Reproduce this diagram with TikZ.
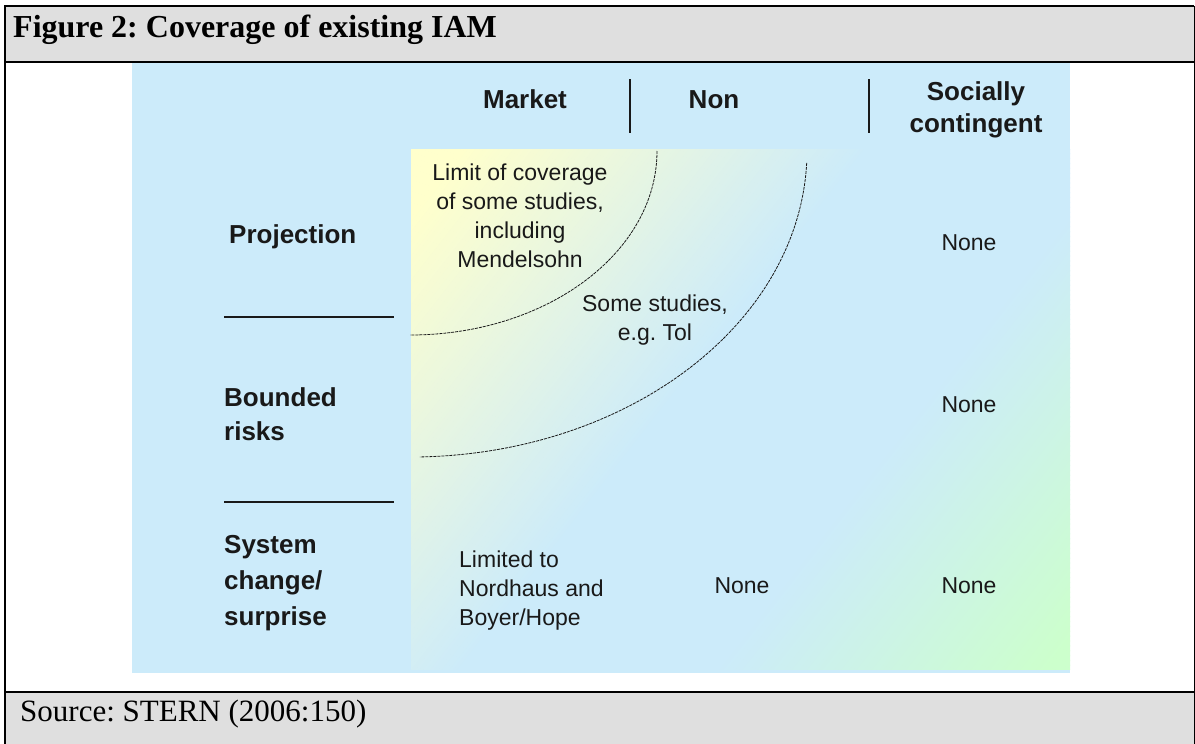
\documentclass[tikz,border=0pt]{standalone}
\usepackage{fontspec}
\setmainfont{Liberation Serif}
\setsansfont{Liberation Sans}
\usepackage{xcolor}
\frenchspacing

\definecolor{boxgray}{RGB}{223,223,223}
\definecolor{skyblue}{RGB}{204,235,250}
\definecolor{lightyellow}{RGB}{255,255,204}
\definecolor{lightgreen}{RGB}{204,255,204}
\definecolor{ink}{RGB}{25,25,25}

\begin{document}
\begin{tikzpicture}[x=1pt, y=-1pt,
	frame/.style={line width=2pt, black},
	colhead/.style={font=\sffamily\bfseries\fontsize{26}{32}\selectfont, text=ink, align=center, inner sep=0pt},
	rowhead/.style={font=\sffamily\bfseries\fontsize{26}{34}\selectfont, text=ink, align=left, inner sep=0pt},
	cell/.style={font=\sffamily\fontsize{23}{29}\selectfont, text=ink, align=center, inner sep=0pt},
	rule/.style={line width=1.4pt, ink},
	limit/.style={line width=0.8pt, ink, dash pattern=on 3pt off 1pt}]
	\useasboundingbox (0,0) rectangle (1195,744);
	\clip (0,0) rectangle (1195,744);
	% Draw table frame
	\fill[boxgray] (5,6) rectangle (1194,62);
	\fill[boxgray] (5,692) rectangle (1194,750);
	\draw[frame] (5,750) -- (5,6) -- (1194,6);
	\draw[line width=1pt] (1194,6) -- (1194,750);
	\draw[frame] (5,62) -- (1194,62);
	\draw[frame] (5,692) -- (1194,692);
	\node[anchor=base west, inner sep=0pt, font=\bfseries\fontsize{32}{36}\selectfont] (title) at (13,37) {Figure 2: Coverage of existing IAM};
	\node[anchor=base west, inner sep=0pt, font=\fontsize{31}{36}\selectfont] (source) at (20,721) {Source: STERN (2006:150)};
	% Draw panel
	\fill[skyblue] (132,63) rectangle (1070,673);
	% Diagonal fade: yellow -> blue -> green, in thin strips
	\begin{scope}
		\clip (411,149) rectangle (1070,669);
		\begin{scope}[shift={(411,149)}, rotate=-38]
			\foreach \s in {0,3,...,843} {
				\pgfmathsetmacro\ya{max(0,min(100,(360-\s)/3.2))}
				\pgfmathsetmacro\gr{max(0,min(100,(\s-560)/2.6))}
				\ifdim\s pt<460pt \def\fadecol{lightyellow!\ya!skyblue}\else\def\fadecol{lightgreen!\gr!skyblue}\fi
				\fill[color=\fadecol] (\s,-900) rectangle (\s+3.6,900);
			}
		\end{scope}
	\end{scope}
	% Draw separators
	\draw[rule] (630,79) -- (630,133);
	\draw[rule] (869,79) -- (869,133);
	\draw[rule] (224,317) -- (394,317);
	\draw[rule] (224,502) -- (394,502);
	% Draw coverage limits
	\draw[limit] (657,151) arc[start angle=0, end angle=90, x radius=247, y radius=184];
	\draw[limit] (806.7,162.9) arc[start angle=2.4, end angle=88.6, x radius=397, y radius=307];
	% Column heads (base = last line)
	\node[colhead, anchor=base] (market) at (525,108) {Market};
	\node[colhead, anchor=base] (non) at (714,108) {Non};
	\node[colhead, anchor=base] (social) at (976,132) {Socially\\contingent};
	% Row heads
	\node[rowhead, anchor=base west] (projection) at (229,243) {Projection};
	\node[rowhead, anchor=base west] (bounded) at (224,440) {Bounded\\risks};
	\node[rowhead, anchor=base west, font=\sffamily\bfseries\fontsize{26}{36}\selectfont] (system) at (224,625) {System\\change/\\surprise};
	% Cells
	\node[cell, anchor=base] (mendelsohn) at (520,267) {Limit of coverage\\of some studies,\\including\\Mendelsohn};
	\node[cell, anchor=base] (tol) at (655,340) {Some studies,\\e.g. Tol};
	\node[cell, align=left, anchor=base west] (limited) at (459,625) {Limited to\\Nordhaus and\\Boyer/Hope};
	\node[cell, anchor=base] (nonesys) at (742,593) {None};
	\node[cell, anchor=base] (nonesocsys) at (969,593) {None};
	\node[cell, anchor=base] (nonesocproj) at (969,250) {None};
	\node[cell, anchor=base] (nonesocbound) at (969,412) {None};
\end{tikzpicture}
\end{document}
